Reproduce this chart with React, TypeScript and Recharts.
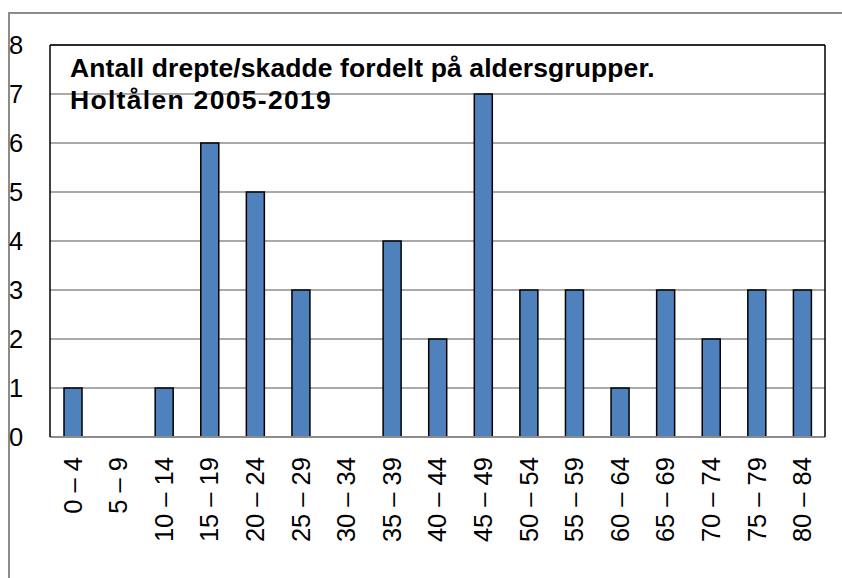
import { BarChart, Bar, XAxis, YAxis, CartesianGrid, ReferenceLine } from "recharts";

const ageGroups = [
  "0 – 4", "5 – 9", "10 – 14", "15 – 19", "20 – 24", "25 – 29", "30 – 34", "35 – 39", "40 – 44",
  "45 – 49", "50 – 54", "55 – 59", "60 – 64", "65 – 69", "70 – 74", "75 – 79", "80 – 84",
];
const counts = [1, 0, 1, 6, 5, 3, 0, 4, 2, 7, 3, 3, 1, 3, 2, 3, 3];
const yTicks = [0, 1, 2, 3, 4, 5, 6, 7, 8];

const titleLines = ["Antall drepte/skadde fordelt på aldersgrupper.", "Holtålen 2005-2019"];

const data = ageGroups.map((group, i) => ({ group, count: counts[i] }));

const FONT = "Liberation Sans, Arial, sans-serif";

function YTick({ y, payload }: any) {
  return (
    <text x={9} y={y} dy="0.35em" textAnchor="start" fontSize={25.5} fontFamily={FONT} fill="#000">
      {payload.value}
    </text>
  );
}

function XTick({ x, y, payload }: any) {
  return (
    <text
      x={x}
      y={y}
      transform={`rotate(-90 ${x} ${y})`}
      dy="0.35em"
      textAnchor="end"
      fontSize={25.5}
      fontFamily={FONT}
      fill="#000"
    >
      {payload.value}
    </text>
  );
}

export default function App() {
  return (
    <div style={{ position: "absolute", left: 0, top: 0, width: 842, height: 578, background: "#fff", overflow: "hidden" }}>
      {/* outer frame, only top/left edges visible */}
      <div
        style={{
          position: "absolute", left: 8, top: 12, width: 900, height: 700,
          borderTop: "2px solid #8c8c8c", borderLeft: "2px solid #8c8c8c",
        }}
      />
      <BarChart
        width={842}
        height={578}
        data={data}
        margin={{ top: 45, right: 0, bottom: 0, left: 0 }}
        barCategoryGap={0}
        style={{ position: "absolute", left: 0, top: 0 }}
      >
        <CartesianGrid yAxisId="left" vertical={false} stroke="#8c8c8c" strokeWidth={1.5} />
        <XAxis
          dataKey="group"
          interval={0}
          height={141}
          tickLine={false}
          axisLine={{ stroke: "#8c8c8c", strokeWidth: 2 }}
          tick={<XTick />}
          tickMargin={14}
        />
        <YAxis
          yAxisId="left"
          domain={[0, 8]}
          ticks={yTicks}
          width={50}
          tickLine={false}
          axisLine={{ stroke: "#000", strokeWidth: 1.5 }}
          tick={<YTick />}
        />
        <YAxis
          yAxisId="right"
          orientation="right"
          domain={[0, 8]}
          ticks={yTicks}
          width={17}
          tick={false}
          tickLine={false}
          axisLine={{ stroke: "#000", strokeWidth: 1.5 }}
        />
        <ReferenceLine yAxisId="left" y={8} stroke="#000" strokeWidth={1.5} />
        <Bar
          yAxisId="left"
          dataKey="count"
          fill="#4F81BD"
          stroke="#000"
          strokeWidth={1.5}
          barSize={18}
          isAnimationActive={false}
        />
      </BarChart>
      <div
        style={{
          position: "absolute", left: 70, top: 52, fontFamily: FONT, fontWeight: "bold",
          fontSize: 26.5, lineHeight: "32px", color: "#000", whiteSpace: "nowrap",
        }}
      >
        <div style={{ letterSpacing: 0.1 }}>{titleLines[0]}</div>
        <div style={{ letterSpacing: 1.3 }}>{titleLines[1]}</div>
      </div>
    </div>
  );
}
